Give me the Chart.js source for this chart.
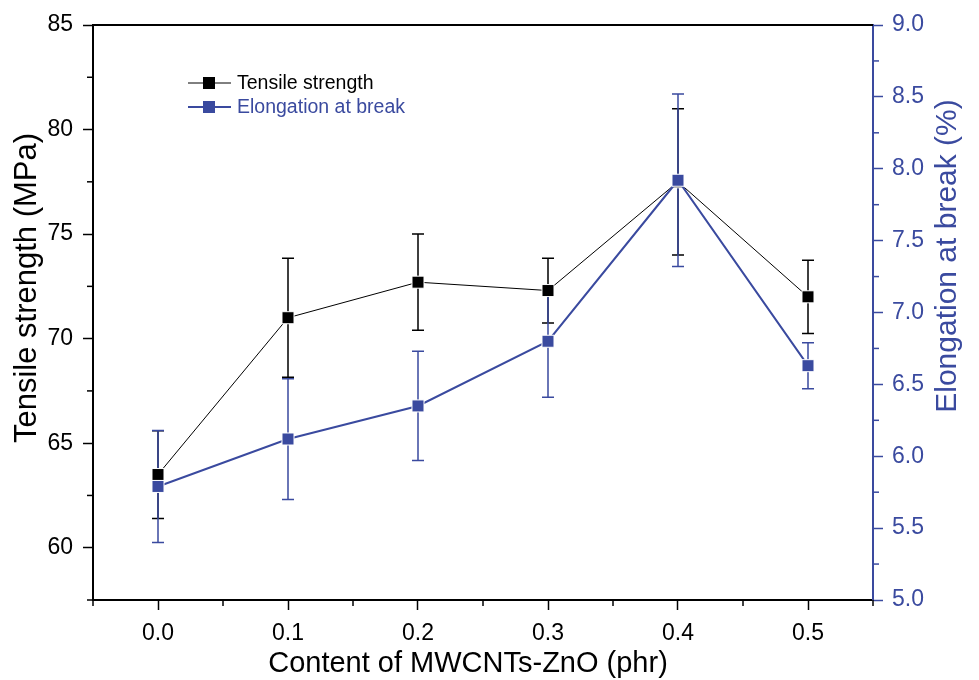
<!DOCTYPE html>
<html>
<head>
<meta charset="utf-8">
<script src="https://cdn.jsdelivr.net/npm/chart.js@4/dist/chart.umd.min.js"></script>
<style>
  html, body { margin: 0; padding: 0; background: #fff; }
  #wrap { width: 979px; height: 680px; position: relative; }
</style>
</head>
<body>
<div id="wrap"><canvas id="chart"></canvas></div>
<script>
// --- data ---
const contents = [0.0, 0.1, 0.2, 0.3, 0.4, 0.5];
const tensile = [63.5, 71.0, 72.7, 72.3, 77.5, 72.0];
const tensileErr = [2.1, 2.85, 2.3, 1.55, 3.5, 1.75];
const elongation = [5.79, 6.12, 6.35, 6.80, 7.92, 6.63];
const elongationErr = [0.39, 0.42, 0.38, 0.39, 0.6, 0.16];
const seriesNames = ['Tensile strength', 'Elongation at break'];
const axisTitles = ['Content of MWCNTs-ZnO (phr)', 'Tensile strength (MPa)', 'Elongation at break (%)'];
const xTickValues = [0.0, 0.1, 0.2, 0.3, 0.4, 0.5];
const leftTickValues = [60, 65, 70, 75, 80, 85];
const rightTickValues = [5.0, 5.5, 6.0, 6.5, 7.0, 7.5, 8.0, 8.5, 9.0];

const BLUE = '#3a4a9f';
const BLACK = '#000000';
const FONT = "'Liberation Sans', Arial, sans-serif";

const errs = [tensileErr, elongationErr];

// error bars, drawn under the lines and markers
const errorBars = {
  id: 'errorBars',
  beforeDatasetsDraw(chart) {
    const ctx = chart.ctx;
    const x = chart.scales.x;
    chart.data.datasets.forEach((ds, i) => {
      const y = chart.scales[ds.yAxisID];
      ctx.save();
      ctx.strokeStyle = ds.borderColor;
      ctx.lineWidth = 1.5;
      ds.data.forEach((p, j) => {
        const px = x.getPixelForValue(p.x);
        const top = y.getPixelForValue(p.y + errs[i][j]);
        const bot = y.getPixelForValue(p.y - errs[i][j]);
        ctx.beginPath();
        ctx.moveTo(px, top); ctx.lineTo(px, bot);
        ctx.moveTo(px - 6, top); ctx.lineTo(px + 6, top);
        ctx.moveTo(px - 6, bot); ctx.lineTo(px + 6, bot);
        ctx.stroke();
      });
      ctx.restore();
    });
  }
};

// top frame line, minor ticks, axis titles and the legend
const decorations = {
  id: 'decorations',
  afterDraw(chart) {
    const ctx = chart.ctx;
    const a = chart.chartArea;
    ctx.save();
    ctx.strokeStyle = BLACK;
    ctx.lineWidth = 2;
    ctx.beginPath();
    ctx.moveTo(a.left - 1, a.top);
    ctx.lineTo(a.right, a.top);
    ctx.stroke();

    // minor ticks halfway between major ones
    ctx.lineWidth = 1.5;
    const xs = chart.scales.x;
    for (let i = 0; i <= xTickValues.length; i++) {
      const v = (i === 0 ? xTickValues[0] - 0.05 : xTickValues[i - 1] + 0.05);
      const px = xs.getPixelForValue(v);
      ctx.beginPath(); ctx.moveTo(px, a.bottom); ctx.lineTo(px, a.bottom + 6); ctx.stroke();
    }
    const yl = chart.scales.y;
    for (let i = 0; i < leftTickValues.length; i++) {
      const py = yl.getPixelForValue(leftTickValues[i] - 2.5);
      ctx.beginPath(); ctx.moveTo(a.left, py); ctx.lineTo(a.left - 6, py); ctx.stroke();
    }
    ctx.strokeStyle = BLUE;
    const yr = chart.scales.y1;
    for (let i = 1; i < rightTickValues.length; i++) {
      const py = yr.getPixelForValue(rightTickValues[i] - 0.25);
      ctx.beginPath(); ctx.moveTo(a.right, py); ctx.lineTo(a.right + 6, py); ctx.stroke();
    }

    // axis titles
    ctx.textAlign = 'center';
    ctx.textBaseline = 'middle';
    ctx.fillStyle = BLACK;
    ctx.font = '29px ' + FONT;
    ctx.fillText(axisTitles[0], 468, 664);
    ctx.font = '31px ' + FONT;
    ctx.save();
    ctx.translate(27, 288);
    ctx.rotate(-Math.PI / 2);
    ctx.fillText(axisTitles[1], 0, 0);
    ctx.restore();
    ctx.save();
    ctx.fillStyle = BLUE;
    ctx.font = '30px ' + FONT;
    ctx.translate(948, 256);
    ctx.rotate(-Math.PI / 2);
    ctx.fillText(axisTitles[2], 0, 0);
    ctx.restore();

    // legend
    ctx.textAlign = 'left';
    ctx.font = '19.5px ' + FONT;
    chart.data.datasets.forEach((ds, i) => {
      const ly = 83 + i * 24;
      ctx.strokeStyle = ds.borderColor;
      ctx.lineWidth = ds.borderWidth;
      ctx.beginPath(); ctx.moveTo(188, ly); ctx.lineTo(231, ly); ctx.stroke();
      ctx.fillStyle = ds.pointBackgroundColor;
      ctx.fillRect(203, ly - 6, 12, 12);
      ctx.fillStyle = ds.borderColor;
      ctx.fillText(seriesNames[i], 237, ly + 1);
    });
    ctx.restore();
  }
};

new Chart(document.getElementById('chart'), {
  type: 'line',
  data: {
    datasets: [
      {
        label: seriesNames[0],
        data: contents.map((c, i) => ({ x: c, y: tensile[i] })),
        yAxisID: 'y',
        borderColor: BLACK,
        borderWidth: 1,
        pointStyle: 'rect',
        pointRadius: 8.5,
        pointBackgroundColor: BLACK,
        pointBorderColor: '#ffffff',
        pointBorderWidth: 1,
        order: 2
      },
      {
        label: seriesNames[1],
        data: contents.map((c, i) => ({ x: c, y: elongation[i] })),
        yAxisID: 'y1',
        borderColor: BLUE,
        borderWidth: 2,
        pointStyle: 'rect',
        pointRadius: 8.5,
        pointBackgroundColor: BLUE,
        pointBorderColor: '#ffffff',
        pointBorderWidth: 1,
        order: 1
      }
    ]
  },
  options: {
    responsive: true,
    maintainAspectRatio: false,
    animation: false,
    layout: { padding: { top: 25, left: 0, right: 0, bottom: 0 } },
    plugins: {
      legend: { display: false },
      tooltip: { enabled: false }
    },
    scales: {
      x: {
        type: 'linear',
        min: -0.05,
        max: 0.55,
        afterBuildTicks: s => { s.ticks = xTickValues.map(v => ({ value: v })); },
        afterFit: s => { s.height = 80; },
        grid: { drawOnChartArea: false, tickLength: 10, tickWidth: 1.5, tickColor: BLACK },
        border: { color: BLACK, width: 2 },
        ticks: {
          color: BLACK,
          padding: 10,
          font: { family: FONT, size: 23 },
          callback: v => v.toFixed(1)
        },
        title: { display: false }
      },
      y: {
        position: 'left',
        min: 57.5,
        max: 85,
        afterBuildTicks: s => { s.ticks = leftTickValues.map(v => ({ value: v })); },
        afterFit: s => { s.width = 93; },
        grid: { drawOnChartArea: false, tickLength: 10, tickWidth: 1.5, tickColor: BLACK },
        border: { color: BLACK, width: 2 },
        ticks: {
          color: BLACK,
          padding: 10,
          font: { family: FONT, size: 23 }
        },
        title: { display: false }
      },
      y1: {
        position: 'right',
        min: 5,
        max: 9,
        afterBuildTicks: s => { s.ticks = rightTickValues.map(v => ({ value: v })); },
        afterFit: s => { s.width = 106; },
        grid: { drawOnChartArea: false, tickLength: 10, tickWidth: 1.5, tickColor: BLUE },
        border: { color: BLUE, width: 2 },
        ticks: {
          color: BLUE,
          padding: 9,
          font: { family: FONT, size: 23 },
          callback: v => v.toFixed(1)
        },
        title: { display: false }
      }
    }
  },
  plugins: [errorBars, decorations]
});
</script>
</body>
</html>
